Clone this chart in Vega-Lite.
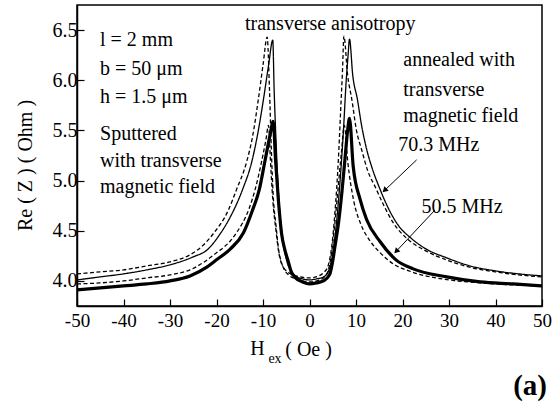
{
  "$schema": "https://vega.github.io/schema/vega-lite/v6.json",
  "width": 465,
  "height": 301,
  "autosize": {"type": "none"},
  "padding": {"left": 77, "top": 5, "right": 11, "bottom": 99},
  "background": "white",
  "config": {
    "view": {"stroke": "black", "strokeWidth": 1.5},
    "font": "Liberation Serif",
    "text": {"font": "Liberation Serif"},
    "axis": {
      "domainColor": "black",
      "domainWidth": 1.5,
      "tickColor": "black",
      "tickWidth": 1.2,
      "labelColor": "black",
      "labelFont": "Liberation Serif",
      "titleFont": "Liberation Serif",
      "titleColor": "black",
      "grid": false
    }
  },
  "datasets": {
    "curves": [
      {"s": "A", "x": -50, "y": 4.01}, {"s": "A", "x": -45, "y": 4.04}, {"s": "A", "x": -40, "y": 4.07}, {"s": "A", "x": -35, "y": 4.11}, {"s": "A", "x": -30, "y": 4.16}, {"s": "A", "x": -25, "y": 4.24}, {"s": "A", "x": -22, "y": 4.31}, {"s": "A", "x": -19.2, "y": 4.47}, {"s": "A", "x": -17, "y": 4.64}, {"s": "A", "x": -14.4, "y": 4.91}, {"s": "A", "x": -12.4, "y": 5.19}, {"s": "A", "x": -11, "y": 5.5}, {"s": "A", "x": -9.9, "y": 5.81}, {"s": "A", "x": -8.8, "y": 6.15}, {"s": "A", "x": -7.9, "y": 6.4}, {"s": "A", "x": -7.6, "y": 5.9}, {"s": "A", "x": -7.2, "y": 5.4}, {"s": "A", "x": -6.7, "y": 4.9}, {"s": "A", "x": -6.0, "y": 4.5}, {"s": "A", "x": -5.0, "y": 4.22}, {"s": "A", "x": -4.0, "y": 4.1}, {"s": "A", "x": -3, "y": 4.05}, {"s": "A", "x": -1.5, "y": 4.02}, {"s": "A", "x": 0, "y": 4.01}, {"s": "A", "x": 1.5, "y": 4.02}, {"s": "A", "x": 3, "y": 4.04}, {"s": "A", "x": 4, "y": 4.09}, {"s": "A", "x": 4.8, "y": 4.22}, {"s": "A", "x": 5.5, "y": 4.45}, {"s": "A", "x": 6.5, "y": 4.95}, {"s": "A", "x": 7.3, "y": 5.5}, {"s": "A", "x": 7.9, "y": 6.0}, {"s": "A", "x": 8.3, "y": 6.25}, {"s": "A", "x": 8.6, "y": 6.41}, {"s": "A", "x": 9.3, "y": 6.05}, {"s": "A", "x": 10.3, "y": 5.81}, {"s": "A", "x": 11.2, "y": 5.55}, {"s": "A", "x": 12.3, "y": 5.31}, {"s": "A", "x": 13.5, "y": 5.12}, {"s": "A", "x": 15.2, "y": 4.91}, {"s": "A", "x": 17, "y": 4.72}, {"s": "A", "x": 19, "y": 4.56}, {"s": "A", "x": 22, "y": 4.42}, {"s": "A", "x": 25, "y": 4.32}, {"s": "A", "x": 29.5, "y": 4.23}, {"s": "A", "x": 34.5, "y": 4.15}, {"s": "A", "x": 40, "y": 4.1}, {"s": "A", "x": 45, "y": 4.07}, {"s": "A", "x": 50, "y": 4.05},

      {"s": "B", "x": -50, "y": 4.07}, {"s": "B", "x": -45, "y": 4.09}, {"s": "B", "x": -40, "y": 4.11}, {"s": "B", "x": -35, "y": 4.15}, {"s": "B", "x": -30, "y": 4.19}, {"s": "B", "x": -25.7, "y": 4.26}, {"s": "B", "x": -23, "y": 4.35}, {"s": "B", "x": -20.7, "y": 4.47}, {"s": "B", "x": -17.5, "y": 4.7}, {"s": "B", "x": -15.7, "y": 4.91}, {"s": "B", "x": -13.5, "y": 5.19}, {"s": "B", "x": -12.2, "y": 5.45}, {"s": "B", "x": -11.0, "y": 5.81}, {"s": "B", "x": -10, "y": 6.15}, {"s": "B", "x": -9.1, "y": 6.43}, {"s": "B", "x": -8.6, "y": 5.9}, {"s": "B", "x": -8.2, "y": 5.3}, {"s": "B", "x": -7.8, "y": 4.85}, {"s": "B", "x": -7.2, "y": 4.55}, {"s": "B", "x": -6.7, "y": 4.33}, {"s": "B", "x": -6, "y": 4.18}, {"s": "B", "x": -5, "y": 4.1}, {"s": "B", "x": -4, "y": 4.07}, {"s": "B", "x": -2, "y": 4.04}, {"s": "B", "x": 0, "y": 4.03}, {"s": "B", "x": 2, "y": 4.05}, {"s": "B", "x": 3, "y": 4.08}, {"s": "B", "x": 4, "y": 4.15}, {"s": "B", "x": 4.8, "y": 4.35}, {"s": "B", "x": 5.5, "y": 4.7}, {"s": "B", "x": 6.2, "y": 5.2}, {"s": "B", "x": 6.7, "y": 5.7}, {"s": "B", "x": 7.1, "y": 6.1}, {"s": "B", "x": 7.4, "y": 6.44}, {"s": "B", "x": 8.2, "y": 6.05}, {"s": "B", "x": 9.1, "y": 5.81}, {"s": "B", "x": 10.1, "y": 5.5}, {"s": "B", "x": 11.2, "y": 5.31}, {"s": "B", "x": 12.5, "y": 5.1}, {"s": "B", "x": 14.1, "y": 4.94}, {"s": "B", "x": 16, "y": 4.75}, {"s": "B", "x": 18, "y": 4.58}, {"s": "B", "x": 21, "y": 4.42}, {"s": "B", "x": 25, "y": 4.3}, {"s": "B", "x": 30, "y": 4.2}, {"s": "B", "x": 35, "y": 4.13}, {"s": "B", "x": 40, "y": 4.09}, {"s": "B", "x": 45, "y": 4.06}, {"s": "B", "x": 50, "y": 4.04},

      {"s": "C", "x": -50, "y": 3.91}, {"s": "C", "x": -45, "y": 3.93}, {"s": "C", "x": -40, "y": 3.95}, {"s": "C", "x": -35, "y": 3.97}, {"s": "C", "x": -30, "y": 4.0}, {"s": "C", "x": -25.7, "y": 4.05}, {"s": "C", "x": -22, "y": 4.14}, {"s": "C", "x": -20, "y": 4.21}, {"s": "C", "x": -17, "y": 4.32}, {"s": "C", "x": -14.2, "y": 4.48}, {"s": "C", "x": -12.3, "y": 4.7}, {"s": "C", "x": -10.8, "y": 4.91}, {"s": "C", "x": -9.6, "y": 5.19}, {"s": "C", "x": -8.5, "y": 5.45}, {"s": "C", "x": -7.8, "y": 5.59}, {"s": "C", "x": -7.3, "y": 5.2}, {"s": "C", "x": -6.7, "y": 4.81}, {"s": "C", "x": -6.0, "y": 4.47}, {"s": "C", "x": -5.3, "y": 4.31}, {"s": "C", "x": -4.6, "y": 4.2}, {"s": "C", "x": -4.0, "y": 4.1}, {"s": "C", "x": -3, "y": 4.03}, {"s": "C", "x": -1.5, "y": 3.99}, {"s": "C", "x": 0, "y": 3.97}, {"s": "C", "x": 1.5, "y": 3.98}, {"s": "C", "x": 3, "y": 4.0}, {"s": "C", "x": 4.3, "y": 4.06}, {"s": "C", "x": 5.0, "y": 4.2}, {"s": "C", "x": 5.5, "y": 4.35}, {"s": "C", "x": 6.3, "y": 4.6}, {"s": "C", "x": 7.0, "y": 4.9}, {"s": "C", "x": 7.6, "y": 5.2}, {"s": "C", "x": 8.2, "y": 5.5}, {"s": "C", "x": 8.6, "y": 5.62}, {"s": "C", "x": 9.4, "y": 5.14}, {"s": "C", "x": 10.9, "y": 4.81}, {"s": "C", "x": 12.3, "y": 4.61}, {"s": "C", "x": 15.2, "y": 4.39}, {"s": "C", "x": 18.6, "y": 4.21}, {"s": "C", "x": 22.3, "y": 4.12}, {"s": "C", "x": 29.5, "y": 4.04}, {"s": "C", "x": 36.7, "y": 3.99}, {"s": "C", "x": 43.8, "y": 3.97}, {"s": "C", "x": 50, "y": 3.95},

      {"s": "D", "x": -50, "y": 3.97}, {"s": "D", "x": -45, "y": 3.98}, {"s": "D", "x": -40, "y": 4.0}, {"s": "D", "x": -35, "y": 4.03}, {"s": "D", "x": -30, "y": 4.06}, {"s": "D", "x": -25.7, "y": 4.11}, {"s": "D", "x": -20, "y": 4.28}, {"s": "D", "x": -17, "y": 4.4}, {"s": "D", "x": -15.7, "y": 4.48}, {"s": "D", "x": -13, "y": 4.72}, {"s": "D", "x": -11.7, "y": 4.91}, {"s": "D", "x": -10.3, "y": 5.19}, {"s": "D", "x": -9.4, "y": 5.4}, {"s": "D", "x": -8.8, "y": 5.55}, {"s": "D", "x": -8.4, "y": 5.2}, {"s": "D", "x": -7.9, "y": 4.81}, {"s": "D", "x": -7.2, "y": 4.5}, {"s": "D", "x": -6.7, "y": 4.31}, {"s": "D", "x": -5.5, "y": 4.12}, {"s": "D", "x": -4.5, "y": 4.06}, {"s": "D", "x": -3, "y": 4.02}, {"s": "D", "x": -1.5, "y": 4.0}, {"s": "D", "x": 0, "y": 3.99}, {"s": "D", "x": 1.5, "y": 4.0}, {"s": "D", "x": 3, "y": 4.03}, {"s": "D", "x": 4, "y": 4.1}, {"s": "D", "x": 4.8, "y": 4.3}, {"s": "D", "x": 5.5, "y": 4.6}, {"s": "D", "x": 6.2, "y": 4.95}, {"s": "D", "x": 6.9, "y": 5.3}, {"s": "D", "x": 7.5, "y": 5.55}, {"s": "D", "x": 8.2, "y": 5.2}, {"s": "D", "x": 9.5, "y": 4.8}, {"s": "D", "x": 11, "y": 4.57}, {"s": "D", "x": 13, "y": 4.4}, {"s": "D", "x": 15, "y": 4.29}, {"s": "D", "x": 18, "y": 4.17}, {"s": "D", "x": 22, "y": 4.09}, {"s": "D", "x": 30, "y": 4.01}, {"s": "D", "x": 37, "y": 3.98}, {"s": "D", "x": 44, "y": 3.96}, {"s": "D", "x": 50, "y": 3.95}
    ],
    "notes": [
      {"t": "l = 2 mm", "x": -45.05, "y": 6.337},
      {"t": "b = 50 μm", "x": -45.05, "y": 6.057},
      {"t": "h = 1.5 μm", "x": -45.05, "y": 5.777},
      {"t": "Sputtered", "x": -45.05, "y": 5.407},
      {"t": "with transverse", "x": -45.05, "y": 5.14},
      {"t": "magnetic field", "x": -45.05, "y": 4.874},
      {"t": "transverse anisotropy", "x": -13.87, "y": 6.5},
      {"t": "annealed with", "x": 20.17, "y": 6.14},
      {"t": "transverse", "x": 20.17, "y": 5.84},
      {"t": "magnetic field", "x": 20.17, "y": 5.58},
      {"t": "70.3 MHz", "x": 19.1, "y": 5.29},
      {"t": "50.5 MHz", "x": 24.1, "y": 4.68}
    ],
    "xtitle": [
      {"t": "H", "x": -11.2, "y": 3.257},
      {"t": "( Oe )", "x": -0.2, "y": 3.247}
    ],
    "arrows": [
      {"id": "a1", "x": 23.05, "y": 5.207, "x2": 16.15, "y2": 4.902},
      {"id": "a2", "x": 26.99, "y": 4.707, "x2": 18.65, "y2": 4.295}
    ]
  },
  "layer": [
    {
      "data": {"name": "curves"},
      "transform": [{"filter": "datum.s !== 'C'"}],
      "mark": {"type": "line", "interpolate": "monotone", "color": "black", "strokeWidth": 1.3},
      "encoding": {
        "x": {
          "field": "x", "type": "quantitative",
          "scale": {"domain": [-50, 50], "nice": false, "zero": false},
          "axis": {
            "title": null,
            "values": [-50, -45, -40, -35, -30, -25, -20, -15, -10, -5, 0, 5, 10, 15, 20, 25, 30, 35, 40, 45, 50],
            "labelExpr": "datum.value % 10 === 0 ? '' + datum.value : ''",
            "tickSize": {"condition": {"test": "datum.value % 10 === 0", "value": -7}, "value": -4},
            "labelFontSize": 19,
            "labelPadding": 12,
            "labelFlush": false
          }
        },
        "y": {
          "field": "y", "type": "quantitative",
          "scale": {"domain": [3.75, 6.75], "nice": false, "zero": false},
          "axis": {
            "title": "Re ( Z ) ( Ohm )",
            "titleFontSize": 20,
            "titleFontWeight": "normal",
            "titleAngle": -90,
            "titleAlign": "center",
            "titleBaseline": "alphabetic",
            "titleX": -46,
            "titleY": 160,
            "values": [4.0, 4.25, 4.5, 4.75, 5.0, 5.25, 5.5, 5.75, 6.0, 6.25, 6.5],
            "labelExpr": "(datum.value * 2) % 1 === 0 ? format(datum.value, '.1f') : ''",
            "tickSize": {"condition": {"test": "(datum.value * 2) % 1 === 0", "value": -7}, "value": -4},
            "labelFontSize": 20,
            "labelPadding": 7,
            "labelFlush": false
          }
        },
        "detail": {"field": "s"},
        "strokeDash": {
          "field": "s", "type": "nominal",
          "scale": {"domain": ["A", "B", "D"], "range": [[1, 0], [4, 2.5], [4, 2.5]]},
          "legend": null
        }
      }
    },
    {
      "data": {"name": "curves"},
      "transform": [{"filter": "datum.s === 'C'"}],
      "mark": {"type": "line", "interpolate": "monotone", "color": "black", "strokeWidth": 3.2},
      "encoding": {
        "x": {"field": "x", "type": "quantitative"},
        "y": {"field": "y", "type": "quantitative"}
      }
    },
    {
      "data": {"name": "notes"},
      "mark": {"type": "text", "align": "left", "baseline": "alphabetic", "font": "Liberation Serif", "fontSize": 20, "color": "black"},
      "encoding": {
        "x": {"field": "x", "type": "quantitative"},
        "y": {"field": "y", "type": "quantitative"},
        "text": {"field": "t"}
      }
    },
    {
      "data": {"name": "xtitle"},
      "mark": {"type": "text", "align": "center", "baseline": "alphabetic", "font": "Liberation Serif", "fontSize": 20, "color": "black"},
      "encoding": {
        "x": {"field": "x", "type": "quantitative"},
        "y": {"field": "y", "type": "quantitative"},
        "text": {"field": "t"}
      }
    },
    {
      "data": {"values": [{"t": "ex", "x": -7.42, "y": 3.177}]},
      "mark": {"type": "text", "align": "center", "baseline": "alphabetic", "font": "Liberation Serif", "fontSize": 14, "color": "black"},
      "encoding": {
        "x": {"field": "x", "type": "quantitative"},
        "y": {"field": "y", "type": "quantitative"},
        "text": {"field": "t"}
      }
    },
    {
      "data": {"values": [{"t": "(a)", "x": 51.08, "y": 2.867}]},
      "mark": {"type": "text", "align": "right", "baseline": "alphabetic", "font": "Liberation Serif", "fontSize": 29, "fontWeight": "bold", "color": "black"},
      "encoding": {
        "x": {"field": "x", "type": "quantitative"},
        "y": {"field": "y", "type": "quantitative"},
        "text": {"field": "t"}
      }
    },
    {
      "data": {"name": "arrows"},
      "mark": {"type": "rule", "color": "black", "strokeWidth": 1},
      "encoding": {
        "x": {"field": "x", "type": "quantitative"},
        "y": {"field": "y", "type": "quantitative"},
        "x2": {"field": "x2"},
        "y2": {"field": "y2"}
      }
    },
    {
      "data": {"name": "arrows"},
      "transform": [{"filter": "datum.id === 'a1'"}],
      "mark": {"type": "point", "shape": "triangle-up", "filled": true, "color": "black", "size": 40, "angle": 226, "opacity": 1},
      "encoding": {
        "x": {"field": "x2", "type": "quantitative"},
        "y": {"field": "y2", "type": "quantitative"}
      }
    },
    {
      "data": {"name": "arrows"},
      "transform": [{"filter": "datum.id === 'a2'"}],
      "mark": {"type": "point", "shape": "triangle-up", "filled": true, "color": "black", "size": 40, "angle": 223, "opacity": 1},
      "encoding": {
        "x": {"field": "x2", "type": "quantitative"},
        "y": {"field": "y2", "type": "quantitative"}
      }
    }
  ]
}
